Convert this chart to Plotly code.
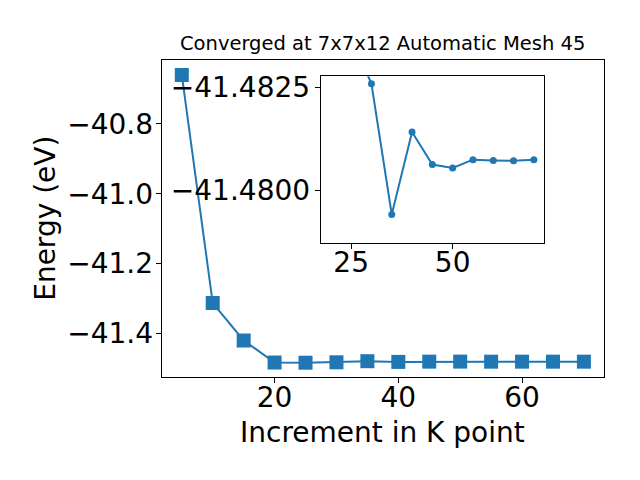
import plotly.graph_objects as go

# ---- data ----
k_points = [5, 10, 15, 20, 25, 30, 35, 40, 45, 50, 55, 60, 65, 70]
energy = [-40.66, -41.313, -41.42, -41.4832, -41.48371, -41.48258, -41.47941,
          -41.48141, -41.48062, -41.48054, -41.48074, -41.48072, -41.48071, -41.48074]
inset_start = 3  # inset shows points from k = 20 onwards

main_xticks = [20, 40, 60]
main_yticks = [-40.8, -41.0, -41.2, -41.4]
inset_xticks = [25, 50]
inset_yticks = [-41.4825, -41.4800]
inset_yrange = [-41.47873, -41.48276]  # inverted y axis

title_text = "Converged at 7x7x12 Automatic Mesh 45"
xlabel = "Increment in K point"
ylabel = "Energy (eV)"

OFF = 8  # page body margin
W, H = 640 - OFF, 480 - OFF
FONT = "DejaVu Sans"
BLUE = "#1f77b4"


def px(x):
    return (x - OFF) / W


def py(y):
    return 1 - (y - OFF) / H


def pad_range(vals, frac=0.05):
    lo, hi = min(vals), max(vals)
    d = (hi - lo) * frac
    return [lo - d, hi + d]


fig = go.Figure()
fig.add_trace(go.Scatter(
    x=k_points, y=energy, mode="lines+markers",
    line=dict(color=BLUE, width=2),
    marker=dict(symbol="square", size=14, color=BLUE),
    xaxis="x", yaxis="y", showlegend=False))

ik = k_points[inset_start:]
ie = energy[inset_start:]
fig.add_trace(go.Scatter(
    x=ik, y=ie, mode="lines+markers",
    line=dict(color=BLUE, width=2),
    marker=dict(symbol="circle", size=7, color=BLUE),
    xaxis="x2", yaxis="y2", showlegend=False, cliponaxis=True))

common = dict(showline=True, mirror=True, linecolor="black", linewidth=1,
              ticks="outside", ticklen=5, tickwidth=1, tickcolor="black",
              showgrid=False, zeroline=False,
              tickfont=dict(family=FONT, size=28, color="black"))

fig.update_layout(
    width=W, height=H, autosize=False,
    margin=dict(l=0, r=0, t=0, b=0),
    paper_bgcolor="white", plot_bgcolor="white",
    xaxis=dict(domain=[px(161.7), px(604)], range=pad_range(k_points),
               tickvals=main_xticks, anchor="y", ticklabelstandoff=-10, **common),
    yaxis=dict(domain=[py(376), py(56)], range=pad_range(energy),
               tickvals=main_yticks, tickformat=".1f", anchor="x",
               ticklabelstandoff=-3, **common),
    xaxis2=dict(domain=[px(320.7), px(544)], range=pad_range(ik),
                tickvals=inset_xticks, anchor="y2", ticklabelstandoff=-10, **common),
    yaxis2=dict(domain=[py(240), py(72)], range=inset_yrange,
                tickvals=inset_yticks, tickformat=".4f", anchor="x2",
                ticklabelstandoff=-1, **common),
    annotations=[
        dict(text=title_text, x=px(382.8), y=py(39), xref="paper", yref="paper",
             showarrow=False, xanchor="center", yanchor="middle",
             font=dict(family=FONT, size=19.5, color="black")),
        dict(text=xlabel, x=px(382.8), y=py(432), xref="paper", yref="paper",
             showarrow=False, xanchor="center", yanchor="middle",
             font=dict(family=FONT, size=28, color="black")),
        dict(text=ylabel, x=px(46), y=py(216), xref="paper", yref="paper",
             showarrow=False, xanchor="center", yanchor="middle", textangle=-90,
             font=dict(family=FONT, size=28, color="black")),
    ],
)

fig.write_html("out.html")
